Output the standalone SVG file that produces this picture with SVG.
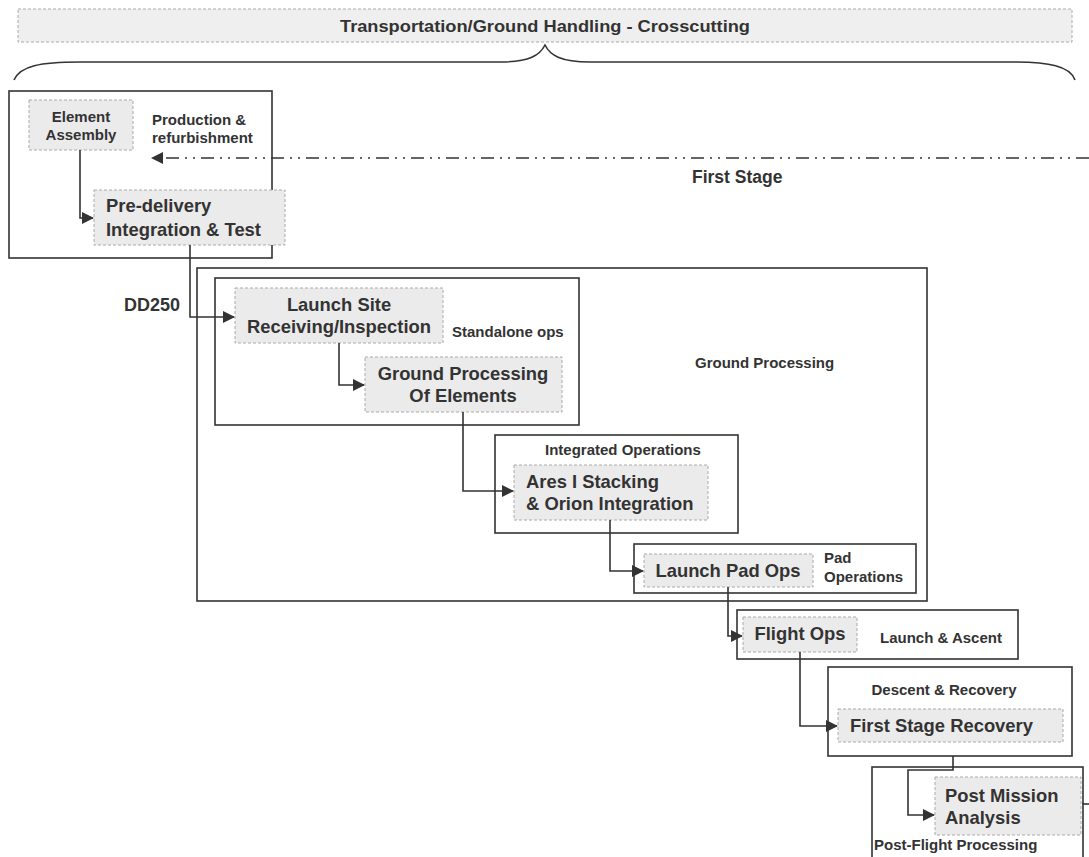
<svg xmlns="http://www.w3.org/2000/svg" width="1089" height="857" viewBox="0 0 1089 857">
<style>
text{font-family:"Liberation Sans",Arial,sans-serif;font-weight:bold;fill:#333}
.n{fill:#ebebeb;stroke:#aaa;stroke-width:1;stroke-dasharray:3 2}
.b{fill:none;stroke:#333;stroke-width:1.6}
.c{fill:none;stroke:#333;stroke-width:1.6}
.lt{font-size:18.4px}
.st{font-size:15px}
</style>
<defs>
<marker id="ah" markerWidth="12" markerHeight="12" refX="11" refY="6" orient="auto" markerUnits="userSpaceOnUse">
<path d="M0,0 L12,6 L0,12 Z" fill="#333"/>
</marker>
</defs>
<rect width="1089" height="857" fill="#fff"/>
<g id="banner">
<rect x="18" y="9" width="1054" height="33" fill="#efefef" stroke="#aaa" stroke-dasharray="3 2"/>
<text x="545" y="32" text-anchor="middle" font-size="16" textLength="410" lengthAdjust="spacingAndGlyphs">Transportation/Ground Handling - Crosscutting</text>
<path class="c" d="M14,80 C20,66 40,62 80,62 L500,62 C530,62 540,55 545,45 C550,55 560,62 590,62 L1010,62 C1050,62 1070,66 1075,80"/>
</g>
<g id="production">
<rect class="b" x="9" y="91" width="263" height="167"/>
<text class="st" x="152" y="125">Production &amp;</text>
<text class="st" x="152" y="143">refurbishment</text>
</g>
<g id="element-assembly">
<rect class="n" x="29" y="100" width="104" height="50"/>
<text class="st" x="81" y="122" text-anchor="middle">Element</text>
<text class="st" x="81" y="140" text-anchor="middle">Assembly</text>
</g>
<g id="pre-delivery">
<rect class="n" x="94" y="190" width="191" height="55"/>
<text class="lt" x="106" y="212">Pre-delivery</text>
<text class="lt" x="106" y="236">Integration &amp; Test</text>
</g>
<g id="first-stage">
<text x="692" y="183" font-size="17.5">First Stage</text>
</g>
<g id="ground-processing">
<rect class="b" x="197" y="268" width="730" height="333"/>
<text class="st" x="695" y="368">Ground Processing</text>
</g>
<g id="standalone">
<rect class="b" x="215" y="278" width="364" height="147"/>
<text class="st" x="452" y="337">Standalone ops</text>
</g>
<g id="dd250"><text x="124" y="311" font-size="18">DD250</text></g>
<g id="launch-site">
<rect class="n" x="235" y="288" width="208" height="55"/>
<text class="lt" x="339" y="311" text-anchor="middle">Launch Site</text>
<text class="lt" x="339" y="333" text-anchor="middle">Receiving/Inspection</text>
</g>
<g id="gp-elements">
<rect class="n" x="365" y="357" width="197" height="55"/>
<text class="lt" x="463" y="380" text-anchor="middle">Ground Processing</text>
<text class="lt" x="463" y="402" text-anchor="middle">Of Elements</text>
</g>
<g id="integrated">
<rect class="b" x="495" y="435" width="243" height="98"/>
<text class="st" x="545" y="455">Integrated Operations</text>
</g>
<g id="ares">
<rect class="n" x="514" y="465" width="194" height="55"/>
<text class="lt" x="526" y="488">Ares I Stacking</text>
<text class="lt" x="526" y="510">&amp; Orion Integration</text>
</g>
<g id="pad-ops">
<rect class="b" x="634" y="544" width="282" height="49"/>
<text class="st" x="824" y="563">Pad</text>
<text class="st" x="824" y="582">Operations</text>
</g>
<g id="launch-pad">
<rect class="n" x="644" y="554" width="169" height="33"/>
<text class="lt" x="728" y="577" text-anchor="middle">Launch Pad Ops</text>
</g>
<g id="launch-ascent">
<rect class="b" x="737" y="610" width="281" height="49"/>
<text class="st" x="880" y="643">Launch &amp; Ascent</text>
</g>
<g id="flight-ops">
<rect class="n" x="743" y="617" width="114" height="35"/>
<text class="lt" x="800" y="640" text-anchor="middle">Flight Ops</text>
</g>
<g id="descent">
<rect class="b" x="828" y="667" width="244" height="89"/>
<text class="st" x="944" y="695" text-anchor="middle">Descent &amp; Recovery</text>
</g>
<g id="fs-recovery">
<rect class="n" x="838" y="709" width="225" height="33"/>
<text class="lt" x="850" y="732">First Stage Recovery</text>
</g>
<g id="post-flight">
<rect class="b" x="872" y="767" width="211" height="100"/>
<text class="st" x="874" y="850">Post-Flight Processing</text>
</g>
<g id="post-mission">
<rect class="n" x="935" y="777" width="146" height="58"/>
<text class="lt" x="945" y="802">Post Mission</text>
<text class="lt" x="945" y="824">Analysis</text>
</g>
<g id="connectors">
<path class="c" d="M1089,158 H152" stroke-width="2" stroke-dasharray="13 6 2 6 2 6" marker-end="url(#ah)"/>
<path class="c" d="M80,150 V218 H93" marker-end="url(#ah)"/>
<path class="c" d="M190,245 V317 H234" marker-end="url(#ah)"/>
<path class="c" d="M339,343 V385 H364" marker-end="url(#ah)"/>
<path class="c" d="M463,412 V491 H513" marker-end="url(#ah)"/>
<path class="c" d="M610,520 V571 H643" marker-end="url(#ah)"/>
<path class="c" d="M728,587 V636 H742" marker-end="url(#ah)"/>
<path class="c" d="M800,652 V726 H837" marker-end="url(#ah)"/>
<path class="c" d="M953,756 V770 H908 V815 H934" marker-end="url(#ah)"/>
<path class="c" d="M1082,804 H1089"/>
</g>
</svg>
